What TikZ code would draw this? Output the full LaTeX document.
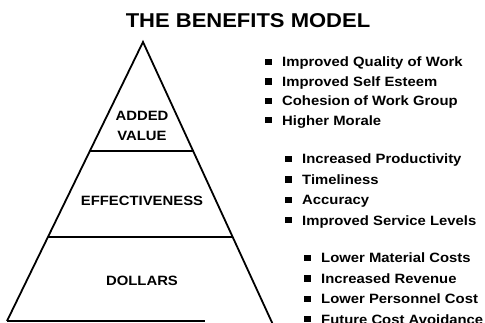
\documentclass[tikz,border=0pt]{standalone}
\usepackage{fontspec}
\setmainfont{Liberation Sans}[FakeStretch=1.1]
\usetikzlibrary{positioning,calc}

\begin{document}
\begin{tikzpicture}[
  x=1pt, y=-1pt,
  node distance=10.3pt,
  every node/.style={font=\bfseries},
  titel/.style={font=\fontsize{20}{24}\selectfont\bfseries, inner sep=0pt, text height=14.3pt, text depth=0pt},
  stufe/.style={font=\fontsize{13.5}{16}\selectfont\bfseries, inner sep=0pt, text height=9.7pt, text depth=0pt},
  punkt/.style={font=\fontsize{13.5}{16}\selectfont\bfseries, anchor=west, inner sep=0pt, text height=9.7pt, text depth=0pt,
    label={[fill=black, minimum size=6.5pt, inner sep=0pt, text height=0pt, text depth=0pt, xshift=-10pt]left:{}}},
  linie/.style={line width=1.8pt, black}
]
  \useasboundingbox (0,0) rectangle (485,323);

  % pyramid
  \coordinate (spitze) at (143,42);
  \coordinate (fussl) at (7,321);
  \coordinate (fussr) at (271.3,321);
  \draw[linie] (fussl) -- (spitze) -- ($(spitze)!1.008!(fussr)$);
  \draw[linie] ($(spitze)!0.3907!(fussl)$) -- ($(spitze)!0.3907!(fussr)$);
  \draw[linie] ($(spitze)!0.699!(fussl)$) -- ($(spitze)!0.699!(fussr)$);
  \draw[linie] (fussl) -- ($(fussl)!0.75!(fussr)$);

  \node[titel] (titel) at (248,20) {THE BENEFITS MODEL};

  \node[stufe] (added) at (142,115.5) {ADDED};
  \node[stufe, below=10.3pt of added] (value) {VALUE};
  \node[stufe] (effect) at (142,201) {EFFECTIVENESS};
  \node[stufe] (dollars) at (142,281) {DOLLARS};

  % added value
  \node[punkt] (qualitaet) at (282,62) {Improved Quality of Work};
  \node[punkt, below=9.3pt of qualitaet.south west, anchor=north west] (esteem) {Improved Self Esteem};
  \node[punkt, below=9.3pt of esteem.south west, anchor=north west] (kohaesion) {Cohesion of Work Group};
  \node[punkt, below=9.3pt of kohaesion.south west, anchor=north west] (moral) {Higher Morale};

  % effectiveness
  \node[punkt] (produkt) at (302,159) {Increased Productivity};
  \node[punkt, below=of produkt.south west, anchor=north west] (zeit) {Timeliness};
  \node[punkt, below=of zeit.south west, anchor=north west] (genau) {Accuracy};
  \node[punkt, below=of genau.south west, anchor=north west] (service) {Improved Service Levels};

  % dollars
  \node[punkt] (material) at (321,258) {Lower Material Costs};
  \node[punkt, below=of material.south west, anchor=north west] (umsatz) {Increased Revenue};
  \node[punkt, below=of umsatz.south west, anchor=north west] (personal) {Lower Personnel Cost};
  \node[punkt, below=of personal.south west, anchor=north west] (zukunft) {Future Cost Avoidance};
\end{tikzpicture}
\end{document}
